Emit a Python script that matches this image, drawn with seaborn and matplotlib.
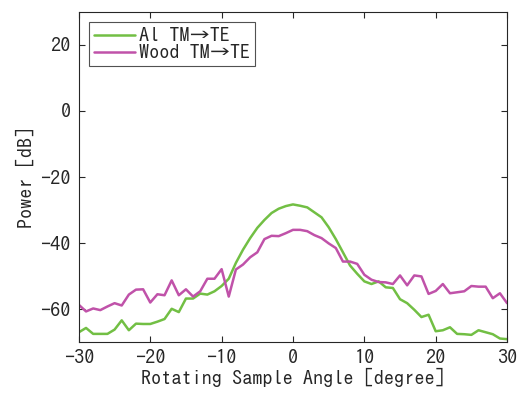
import numpy as np
import pandas as pd
import matplotlib
matplotlib.use("Agg")
import matplotlib.pyplot as plt
import seaborn as sns

angles = list(range(-30, 31))

al_tm_te = [
    -67.0, -65.7, -67.5, -67.5, -67.5, -66.2, -63.4, -66.4, -64.4, -64.5,
    -64.5, -63.8, -63.0, -59.9, -60.9, -56.8, -56.8, -55.3, -55.6, -54.6,
    -53.0, -50.8, -46.0, -42.0, -38.5, -35.4, -33.0, -30.9, -29.6, -28.8,
    -28.3,
    -28.7, -29.2, -30.7, -32.2, -35.2, -38.8, -42.8, -46.8, -49.3, -51.6,
    -52.4, -51.6, -53.4, -53.6, -57.0, -58.2, -60.2, -62.4, -61.7, -66.7,
    -66.4, -65.5, -67.5, -67.6, -67.8, -66.4, -67.0, -67.6, -68.9, -69.1,
]

wood_tm_te = [
    -58.7, -60.7, -59.8, -60.3, -59.2, -58.2, -58.9, -55.6, -54.1, -54.0,
    -58.0, -55.5, -55.8, -51.3, -55.8, -54.0, -56.2, -54.6, -50.8, -50.8,
    -47.9, -56.2, -48.0, -46.5, -44.3, -42.8, -38.8, -37.8, -37.9, -37.0,
    -36.0,
    -36.0, -36.4, -37.6, -38.5, -40.1, -41.5, -45.6, -45.6, -46.3, -49.6,
    -51.1, -51.8, -51.9, -52.4, -49.8, -52.8, -49.8, -50.1, -55.4, -54.5,
    -52.4, -55.2, -54.9, -54.6, -53.0, -53.2, -53.2, -56.7, -55.2, -58.2,
]

series_names = ["Al TM\u2192TE", "Wood TM\u2192TE"]
colors = ["#72bf44", "#c052a9"]
xticks = [-30, -20, -10, 0, 10, 20, 30]
yticks = [-60, -40, -20, 0, 20]

df = pd.concat([
    pd.DataFrame({"angle": angles, "power": al_tm_te, "series": series_names[0]}),
    pd.DataFrame({"angle": angles, "power": wood_tm_te, "series": series_names[1]}),
])

sns.set_theme(style="white")
plt.rcParams["font.family"] = ["IPAGothic", "Noto Sans CJK JP", "DejaVu Sans"]
plt.rcParams["axes.unicode_minus"] = True

FS = 14.6
fig = plt.figure(figsize=(5.26, 3.96), dpi=100)
ax = fig.add_axes([0.150, 0.136, 0.814, 0.834])

sns.lineplot(data=df, x="angle", y="power", hue="series",
             palette=dict(zip(series_names, colors)), linewidth=1.8,
             ax=ax, legend=True)

ax.set_xlim(-30, 30)
ax.set_ylim(-70, 30)
ax.set_xticks(xticks)
ax.set_yticks(yticks)
ax.set_xlabel("Rotating Sample Angle [degree]", fontsize=FS, color="#262626", labelpad=1)
ax.set_ylabel("Power [dB]", fontsize=FS, color="#262626", labelpad=4)
ax.tick_params(direction="in", length=4, width=0.8, colors="#262626",
               labelsize=FS, top=True, right=True, bottom=True, left=True,
               labelcolor="#262626")
ax.tick_params(axis="x", pad=5)
ax.tick_params(axis="y", pad=6)
for s in ax.spines.values():
    s.set_visible(True)
    s.set_color("#262626")
    s.set_linewidth(0.8)

leg = ax.legend(loc="upper left", fontsize=FS, frameon=True, fancybox=False,
                edgecolor="#262626", handlelength=2.0, borderpad=0.25,
                labelspacing=0.0, handletextpad=0.2, borderaxespad=0.5)
leg.get_frame().set_linewidth(0.8)
for t in leg.get_texts():
    t.set_color("#262626")

fig.savefig("out.png", dpi=100)
